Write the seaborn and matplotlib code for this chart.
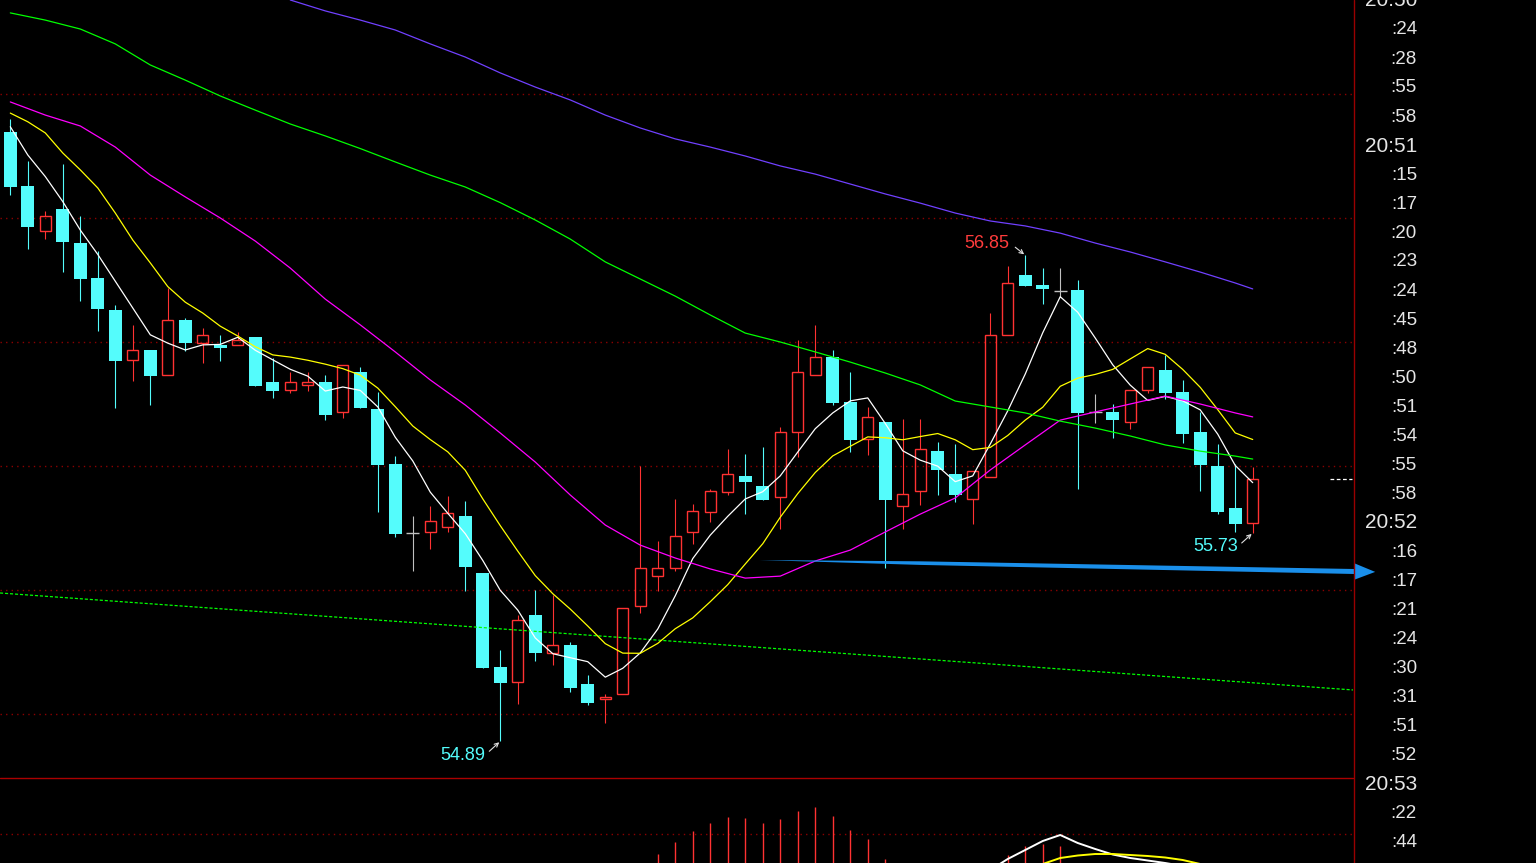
#candlestick chart with moving averages, black terminal style
import numpy as np
import pandas as pd
import matplotlib
matplotlib.use("Agg")
import matplotlib.pyplot as plt
from matplotlib.lines import Line2D
from matplotlib.patches import Polygon
import seaborn as sns

# OHLC, one candle per entry
opens = [57.347, 57.129, 56.946, 57.036, 56.898, 56.758, 56.629, 56.426, 56.468, 56.366,
         56.589, 56.497, 56.488, 56.486, 56.520, 56.339, 56.305, 56.325, 56.339, 56.217,
         56.379, 56.230, 56.008, 55.729, 55.735, 55.755, 55.798, 55.569, 55.190, 55.128,
         55.399, 55.247, 55.278, 55.121, 55.059, 55.079, 55.437, 55.558, 55.587, 55.735,
         55.816, 55.897, 55.960, 55.919, 55.876, 56.136, 56.366, 56.440, 56.258, 56.108,
         56.177, 55.837, 55.898, 56.060, 55.968, 55.866, 55.957, 56.527, 56.770, 56.730,
         56.707, 56.710, 56.218, 56.218, 56.176, 56.305, 56.387, 56.298, 56.137, 56.000,
         55.831, 55.769]
highs = [57.398, 57.230, 57.027, 57.217, 57.007, 56.867, 56.649, 56.569, 56.468, 56.718,
         56.596, 56.555, 56.528, 56.539, 56.520, 56.437, 56.379, 56.379, 56.367, 56.406,
         56.399, 56.298, 56.040, 55.798, 55.839, 55.879, 55.859, 55.569, 55.258, 55.399,
         55.500, 55.480, 55.289, 55.157, 55.081, 55.426, 56.000, 55.698, 55.867, 55.847,
         55.907, 56.069, 56.048, 56.077, 56.157, 56.508, 56.569, 56.468, 56.379, 56.237,
         56.177, 56.190, 56.190, 56.097, 56.089, 55.980, 56.617, 56.806, 56.850, 56.798,
         56.798, 56.750, 56.290, 56.250, 56.305, 56.398, 56.448, 56.347, 56.218, 56.089,
         56.008, 55.997]
lows = [57.094, 56.876, 56.917, 56.783, 56.667, 56.546, 56.235, 56.344, 56.247, 56.366,
        56.465, 56.417, 56.425, 56.486, 56.324, 56.275, 56.296, 56.304, 56.187, 56.195,
        56.235, 55.816, 55.715, 55.578, 55.665, 55.734, 55.497, 55.187, 54.890, 55.039,
        55.215, 55.196, 55.087, 55.037, 54.965, 55.079, 55.406, 55.497, 55.578, 55.685,
        55.774, 55.883, 55.806, 55.863, 55.746, 56.036, 56.366, 56.246, 56.058, 56.044,
        55.587, 55.747, 55.843, 55.883, 55.856, 55.766, 55.957, 56.527, 56.727, 56.654,
        56.680, 55.906, 56.175, 56.114, 56.148, 56.296, 56.269, 56.094, 55.898, 55.806,
        55.735, 55.730]
closes = [57.126, 56.965, 57.007, 56.904, 56.755, 56.634, 56.425, 56.467, 56.364, 56.587,
          56.497, 56.527, 56.477, 56.508, 56.324, 56.304, 56.337, 56.339, 56.207, 56.406,
          56.235, 56.005, 55.727, 55.729, 55.777, 55.809, 55.594, 55.187, 55.126, 55.379,
          55.247, 55.277, 55.106, 55.046, 55.067, 55.426, 55.587, 55.587, 55.717, 55.817,
          55.898, 55.967, 55.937, 55.863, 56.136, 56.378, 56.438, 56.255, 56.106, 56.196,
          55.863, 55.886, 56.067, 55.985, 55.883, 55.980, 56.527, 56.737, 56.727, 56.715,
          56.707, 56.214, 56.218, 56.187, 56.305, 56.398, 56.296, 56.128, 56.005, 55.816,
          55.767, 55.948]

# first points of the short averages (their history is off the chart)
ma5_head = [57.368, 57.254, 57.167, 57.066]
ma10_head = [57.423, 57.388, 57.343, 57.262, 57.194, 57.121, 57.020, 56.911, 56.819]

# slower averages read every second candle
ma_idx = list(range(0, 71, 2)) + [71]
ma_mag = [57.468, 57.415, 57.371, 57.286, 57.173, 57.085, 57.000, 56.907, 56.798, 56.673,
          56.569, 56.460, 56.347, 56.246, 56.133, 56.016, 55.883, 55.762, 55.681, 55.629,
          55.585, 55.548, 55.556, 55.617, 55.661, 55.734, 55.806, 55.871, 55.984, 56.085,
          56.185, 56.218, 56.250, 56.282, 56.250, 56.214, 56.198]
ma_green = [57.827, 57.798, 57.762, 57.702, 57.617, 57.556, 57.492, 57.435, 57.379, 57.331,
            57.280, 57.226, 57.173, 57.125, 57.062, 56.992, 56.915, 56.823, 56.754, 56.685,
            56.609, 56.536, 56.500, 56.460, 56.419, 56.375, 56.327, 56.262, 56.238, 56.214,
            56.181, 56.153, 56.121, 56.085, 56.060, 56.040, 56.028]
purple_idx = list(range(16, 71, 2)) + [71]
ma_purple = [57.879, 57.835, 57.798, 57.758, 57.702, 57.649, 57.585, 57.528, 57.476, 57.415,
             57.363, 57.319, 57.286, 57.250, 57.210, 57.177, 57.137, 57.097, 57.060, 57.020,
             56.988, 56.968, 56.939, 56.899, 56.863, 56.823, 56.782, 56.738, 56.714]

trend_ends = [55.488, 55.097]  # dotted green line at left / right edge
arrow_from = (42.8, 55.621)
arrow_to = (78.0, 55.573)

# marked extremes
mark_high = 58
mark_lows = [28, 71]

# lower indicator panel
hist_idx = list(range(37, 51)) + [57, 58, 59, 60]
hist_vals = [0.009, 0.021, 0.032, 0.040, 0.046, 0.045, 0.040, 0.044, 0.052, 0.056,
             0.047, 0.033, 0.024, 0.004, 0.008, 0.017, 0.019, 0.017]
dif_idx = list(range(56, 68))
dif_vals = [-0.007, 0.004, 0.013, 0.022, 0.028, 0.020, 0.014, 0.0085, 0.005, 0.0025, 0.0, -0.003]
dea_idx = list(range(58, 70))
dea_vals = [-0.006, -0.001, 0.005, 0.0075, 0.009, 0.009, 0.008, 0.007, 0.0055, 0.003, -0.001, -0.006]

time_labels = ["20:50", ":24", ":28", ":55", ":58", "20:51", ":15", ":17", ":20", ":23",
               ":24", ":45", ":48", ":50", ":51", ":54", ":55", ":58", "20:52", ":16",
               ":17", ":21", ":24", ":30", ":31", ":51", ":52", "20:53", ":22", ":44"]

CYAN = "#54fcfc"
RED = "#ff3232"
GRAY = "#c0c0c0"

sns.set_theme(style="dark", rc={"axes.facecolor": "black", "figure.facecolor": "black"})
plt.rcParams["font.family"] = ["Liberation Sans", "DejaVu Sans"]

W, H = 1536, 863
XL = (-0.589, 76.731)
fig = plt.figure(figsize=(W / 100, H / 100), dpi=100)
ax = fig.add_axes([0, 85 / H, 1353 / W, 778 / H])
ax2 = fig.add_axes([0, 0, 1353 / W, 85 / H])

# grid
for g in [55.0, 55.5, 56.0, 56.5, 57.0, 57.5]:
    ax.axhline(g, color="#8b0000", lw=1, ls=(0, (1, 3)), zorder=0)
ax2.axhline(0.029, color="#8b0000", lw=1, ls=(0, (1, 3)), zorder=0)

df = pd.DataFrame({"o": opens, "h": highs, "l": lows, "c": closes})
df["i"] = np.arange(len(df))
up = df[df.c > df.o]
dn = df[df.c < df.o]
flat = df[df.c == df.o]

# falling candles: filled cyan
ax.vlines(dn.i, dn.l, dn.h, color=CYAN, lw=0.8, zorder=2)
ax.bar(dn.i, dn.o - dn.c, bottom=dn.c, width=0.73, color=CYAN, lw=0, zorder=3)
# rising candles: hollow red
ax.vlines(up.i, up.c, up.h, color=RED, lw=0.8, zorder=2)
ax.vlines(up.i, up.l, up.o, color=RED, lw=0.8, zorder=2)
ax.bar(up.i, up.c - up.o, bottom=up.o, width=0.65, facecolor="none", edgecolor=RED, lw=1.0, zorder=3)
# doji
ax.vlines(flat.i, flat.l, flat.h, color=GRAY, lw=0.8, zorder=2)
ax.hlines(flat.c, flat.i - 0.36, flat.i + 0.36, color=GRAY, lw=1.0, zorder=3)

# moving averages
cs = pd.Series(closes)
ma5 = cs.rolling(5).mean()
ma5.iloc[:4] = ma5_head
ma10 = cs.rolling(10).mean()
ma10.iloc[:9] = ma10_head

sns.lineplot(x=df.i, y=ma5, color="white", lw=0.9, estimator=None, ax=ax, zorder=5)
sns.lineplot(x=df.i, y=ma10, color="#ffff00", lw=0.9, estimator=None, ax=ax, zorder=5)
sns.lineplot(x=ma_idx, y=ma_mag, color="#ff00ff", lw=0.9, estimator=None, ax=ax, zorder=5)
sns.lineplot(x=ma_idx, y=ma_green, color="#00ff00", lw=0.9, estimator=None, ax=ax, zorder=5)
sns.lineplot(x=purple_idx, y=ma_purple, color="#7040ff", lw=0.9, estimator=None, ax=ax, zorder=5)

ax.plot(XL, trend_ends, color="#00ff00", lw=0.9, ls=(0, (2.5, 1.5)), zorder=4)

# last price marker
ax.hlines(closes[-1], 75.4, 76.7, color="white", lw=0.9, ls=(0, (3, 2)), zorder=5)

# blue arrow (tapered shaft + head)
x0, y0 = arrow_from
x2, y2 = arrow_to
xb = 76.84
px = 1 / 248
def yl(x):
    return y0 + (y2 - y0) * (x - x0) / (x2 - x0)
shaft = [(x0, yl(x0)), (52, yl(52) + 1.8 * px), (xb, yl(xb) + 2.5 * px),
         (xb, yl(xb) - 2.5 * px), (52, yl(52) - 1.8 * px)]
ax.add_patch(Polygon(shaft, closed=True, color="#1a8fea", lw=0, zorder=6, clip_on=False))
head = [(xb, yl(xb) + 8 * px), (x2, y2), (xb, yl(xb) - 8 * px)]
ax.add_patch(Polygon(head, closed=True, color="#1a8fea", lw=0, zorder=6, clip_on=False))

# high / low labels
arr = dict(arrowstyle="->", color="#e0e0e0", lw=0.8, shrinkA=0, shrinkB=1, mutation_scale=7)
ax.annotate(f"{highs[mark_high]:.2f}", xy=(mark_high, highs[mark_high]), xytext=(-16, 12),
            textcoords="offset pixels", ha="right", va="center", color="#ff3c3c", fontsize=13, zorder=7)
ax.annotate("", xy=(mark_high, highs[mark_high]), xytext=(-10, 8), textcoords="offset pixels",
            arrowprops=arr, zorder=7)
for li in mark_lows:
    ax.annotate(f"{lows[li]:.2f}", xy=(li, lows[li]), xytext=(-15, -14), textcoords="offset pixels",
                ha="right", va="center", color=CYAN, fontsize=13, zorder=7)
    ax.annotate("", xy=(li, lows[li]), xytext=(-11, -10), textcoords="offset pixels",
                arrowprops=arr, zorder=7)

# lower panel
ax2.vlines(hist_idx, -1, hist_vals, color=RED, lw=1.0)
ax2.plot(dif_idx, dif_vals, color="white", lw=1.4)
ax2.plot(dea_idx, dea_vals, color="#ffff00", lw=1.4)

for a in (ax, ax2):
    a.set_xlim(*XL)
    a.set_facecolor("black")
    a.set_xticks([])
    a.set_yticks([])
    a.set_xlabel("")
    a.set_ylabel("")
    a.grid(False)
    for s in a.spines.values():
        s.set_visible(False)
ax.set_ylim(54.742, 57.879)
ax2.set_ylim(0, 0.085)

# frame lines
fig.add_artist(Line2D([1353.5 / W, 1353.5 / W], [0, 1], color="#990000", lw=1))
fig.add_artist(Line2D([0, 1353 / W], [1 - 778 / H, 1 - 778 / H], color="#aa0000", lw=1))

# right time column
for k, lab in enumerate(time_labels):
    y = 1 + 29 * k
    big = not lab.startswith(":")
    fig.text(1417 / W, 1 - y / H, lab, ha="right", va="center", color="#e6e6e6",
             fontsize=15 if big else 13.5)

fig.savefig("out.png", dpi=100, facecolor="black")
